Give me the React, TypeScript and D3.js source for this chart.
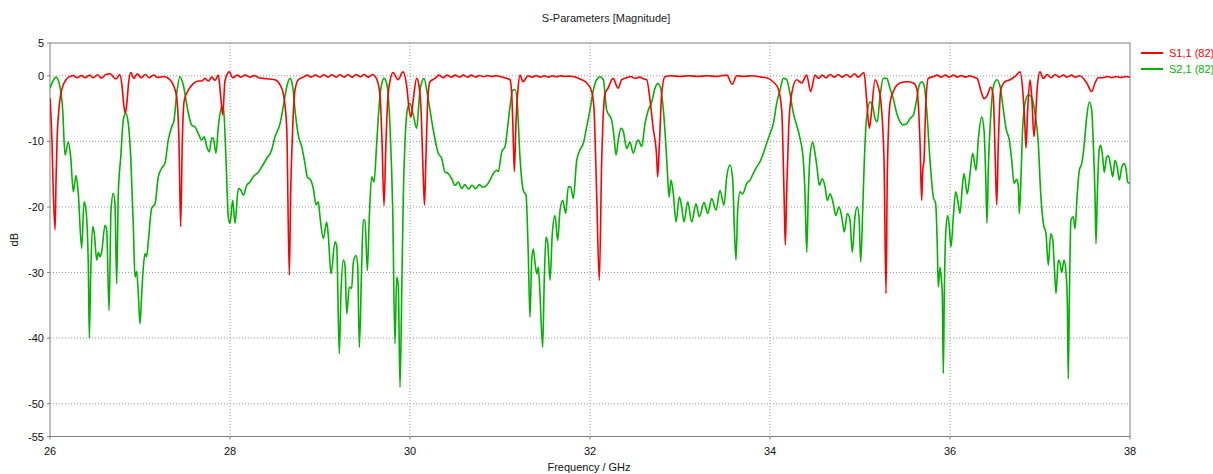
import React from "react";
import * as d3 from "d3";

const title = "S-Parameters [Magnitude]";
const xLabel = "Frequency / GHz";
const yLabel = "dB";
const xTicks = [26, 28, 30, 32, 34, 36, 38];
const yTicks = [5, 0, -10, -20, -30, -40, -50, -55];
const xGrid = [28, 30, 32, 34, 36];
const yGrid = [0, -10, -20, -30, -40, -50];
const seriesNames = ["S1,1 (82)", "S2,1 (82)"];

const s11: [number, number][] = [
[26.0,-3.4],[26.022,-10],[26.033,-16],[26.056,-23.5],[26.067,-16],[26.078,-10],[26.1,-5],[26.133,-2],[26.178,-0.6],[26.222,-0.1],[26.26,0.05],[26.3,-0.3],[26.35,0.05],[26.39,-0.3],[26.44,0.1],[26.48,-0.3],[26.53,0.15],[26.57,-0.35],[26.62,0.2],[26.667,0.3],[26.733,-0.5],[26.774,0.2],[26.8,-1.5],[26.82,-4.5],[26.837,-5.7],[26.855,-4],[26.875,-0.8],[26.9,0.5],[26.93,-0.4],[26.97,0.3],[27.01,-0.3],[27.06,0.2],[27.1,-0.3],[27.15,0.1],[27.2,-0.25],[27.26,-0.1],[27.3,-0.25],[27.37,-1.4],[27.407,-3.2],[27.433,-10],[27.452,-23],[27.47,-10],[27.492,-3.7],[27.537,-2.2],[27.592,-1.2],[27.648,-0.8],[27.685,-0.8],[27.722,-0.4],[27.759,-0.8],[27.797,-0.2],[27.833,-0.7],[27.87,0.1],[27.897,-3.2],[27.919,-6],[27.944,-0.8],[27.992,0.6],[28.03,-0.3],[28.08,0.1],[28.12,-0.2],[28.17,0.1],[28.22,-0.2],[28.27,0.05],[28.32,-0.3],[28.37,-0.4],[28.444,-0.5],[28.5,-0.6],[28.556,-1.4],[28.592,-2.7],[28.63,-7.8],[28.659,-30.4],[28.674,-18],[28.697,-7.8],[28.722,-2.2],[28.759,-0.6],[28.814,-0.2],[28.86,0.1],[28.9,-0.2],[28.95,0.1],[29.0,-0.2],[29.04,0.15],[29.09,-0.2],[29.13,0.15],[29.18,-0.2],[29.22,0.15],[29.27,-0.2],[29.31,0.2],[29.36,-0.2],[29.4,0.2],[29.45,-0.15],[29.49,0.2],[29.54,-0.2],[29.58,0.2],[29.63,-0.5],[29.667,-3],[29.689,-10],[29.711,-19.8],[29.733,-10],[29.756,-3],[29.778,-0.8],[29.811,0.5],[29.867,-0.6],[29.922,0.6],[29.967,-2],[29.989,-5],[30.011,-6.3],[30.033,-4],[30.074,-0.4],[30.1,-1.5],[30.122,-5],[30.144,-14],[30.161,-19.7],[30.178,-12],[30.2,-3],[30.222,-0.9],[30.278,-0.4],[30.32,0.1],[30.37,-0.3],[30.41,0.1],[30.46,-0.2],[30.5,0.1],[30.55,-0.2],[30.59,0.1],[30.64,-0.2],[30.68,0.1],[30.73,-0.2],[30.77,0.05],[30.82,-0.15],[30.86,0.05],[30.91,-0.1],[30.96,0.0],[31.0,-0.1],[31.05,-0.3],[31.111,-0.6],[31.13,-2.7],[31.144,-8],[31.159,-14.6],[31.178,-7],[31.2,-2],[31.222,0.1],[31.256,-0.9],[31.311,0],[31.36,-0.2],[31.4,0.05],[31.45,-0.2],[31.49,0.0],[31.54,-0.2],[31.58,0.0],[31.63,-0.15],[31.67,0.0],[31.72,-0.1],[31.76,-0.05],[31.81,-0.1],[31.889,-0.5],[31.963,-1.1],[32.019,-2.4],[32.044,-5],[32.074,-18],[32.103,-31.2],[32.13,-12.9],[32.167,-2.7],[32.2,-1.9],[32.256,-0.4],[32.311,-1.9],[32.352,-0.6],[32.407,-0.3],[32.45,-0.1],[32.5,-0.4],[32.55,-0.2],[32.6,-0.5],[32.63,-0.6],[32.667,-3.7],[32.7,-7.8],[32.741,-12.4],[32.752,-15.4],[32.77,-10.8],[32.797,-2.7],[32.833,-0.15],[32.9,0],[33.0,-0.1],[33.1,0],[33.2,-0.1],[33.3,0],[33.4,-0.1],[33.52,0.1],[33.581,-1.3],[33.63,0],[33.7,-0.1],[33.8,0],[33.9,-0.2],[33.963,-0.3],[34.033,-0.9],[34.089,-1.9],[34.13,-5.2],[34.156,-18],[34.17,-25.8],[34.185,-18],[34.208,-7.8],[34.241,-2.7],[34.296,-0.6],[34.352,-1.1],[34.407,0.1],[34.452,-2.4],[34.5,0.1],[34.54,-0.4],[34.58,0.1],[34.62,-0.3],[34.67,0.2],[34.71,-0.2],[34.76,0.2],[34.8,-0.2],[34.85,0.2],[34.89,-0.2],[34.94,0.3],[34.98,-0.2],[35.044,0.5],[35.074,-3.7],[35.103,-8],[35.122,-6.3],[35.167,-0.6],[35.203,-1.7],[35.23,-3.7],[35.267,-12.9],[35.289,-33.2],[35.303,-15.4],[35.333,-4.2],[35.37,-2.4],[35.444,-1.1],[35.519,-0.9],[35.593,-1.1],[35.63,-1.9],[35.667,-10.3],[35.685,-19],[35.697,-14.4],[35.711,-12.9],[35.733,-3.7],[35.759,-0.4],[35.815,-0.1],[35.86,0.1],[35.9,-0.2],[35.95,0.1],[35.99,-0.2],[36.04,0.1],[36.08,-0.2],[36.13,0.05],[36.17,-0.2],[36.22,0.0],[36.26,-0.2],[36.3,-0.4],[36.352,-2.7],[36.378,-3.5],[36.414,-3],[36.452,-1.7],[36.481,-3.2],[36.503,-12.9],[36.519,-19.7],[36.537,-10.3],[36.563,-2.2],[36.611,-0.9],[36.667,-0.6],[36.722,-0.1],[36.778,0.6],[36.808,-2.2],[36.833,-7.8],[36.844,-11],[36.863,-5.2],[36.889,-0.6],[36.908,-3.2],[36.933,-9.3],[36.948,-7],[36.97,-1.7],[37.0,0.6],[37.037,-0.4],[37.08,0.2],[37.12,-0.3],[37.17,0.2],[37.21,-0.2],[37.26,0.1],[37.3,-0.2],[37.35,0.1],[37.39,-0.2],[37.44,0.0],[37.519,-1.1],[37.574,-2.4],[37.611,-1.1],[37.648,-0.3],[37.7,-0.3],[37.75,-0.1],[37.8,-0.3],[37.85,-0.1],[37.9,-0.25],[37.95,-0.1],[38.0,-0.2]
];

const s21: [number, number][] = [
[26.0,-1.9],[26.067,-0.2],[26.111,-1.7],[26.141,-5.2],[26.167,-12.1],[26.203,-10.1],[26.23,-12.4],[26.259,-17.7],[26.289,-15.2],[26.314,-17.9],[26.352,-26.3],[26.378,-19.2],[26.4,-20.5],[26.426,-29.2],[26.437,-40],[26.452,-30.2],[26.474,-23],[26.492,-24],[26.519,-28.1],[26.537,-26.9],[26.556,-27.6],[26.574,-26.9],[26.611,-22.8],[26.63,-23.6],[26.656,-35.8],[26.678,-20.5],[26.703,-17.9],[26.722,-19.5],[26.741,-31.7],[26.759,-17.9],[26.786,-12.4],[26.814,-6.8],[26.841,-5.7],[26.87,-7.3],[26.897,-12.4],[26.926,-23],[26.944,-30.7],[26.963,-29.8],[26.981,-33.2],[27.0,-37.8],[27.019,-33.2],[27.037,-29.2],[27.056,-27.1],[27.074,-27.6],[27.092,-25.3],[27.13,-20.2],[27.167,-19.5],[27.203,-15.4],[27.241,-14.1],[27.278,-13.3],[27.314,-9.8],[27.352,-7.8],[27.378,-6.8],[27.408,-2.7],[27.444,-0.15],[27.481,-1.4],[27.537,-5.7],[27.574,-7.5],[27.611,-7.8],[27.648,-8.8],[27.686,-9.8],[27.714,-9.3],[27.741,-10.8],[27.77,-11.6],[27.797,-9.5],[27.814,-9.5],[27.844,-11.8],[27.87,-7.8],[27.908,-4.7],[27.926,-4.8],[27.956,-12.9],[27.981,-21.5],[28.0,-22.5],[28.03,-19],[28.056,-22.5],[28.092,-17.2],[28.119,-17.4],[28.148,-18.2],[28.186,-16.7],[28.222,-16.2],[28.259,-15.4],[28.314,-14.7],[28.352,-13.9],[28.408,-12.6],[28.463,-11.3],[28.5,-9.3],[28.556,-7.3],[28.592,-4.7],[28.63,-1.7],[28.667,-0.4],[28.697,-1.7],[28.722,-5.2],[28.759,-9.1],[28.797,-10.8],[28.833,-13.4],[28.859,-15.4],[28.897,-15.9],[28.926,-17.2],[28.956,-19.7],[28.981,-19.2],[29.0,-21.5],[29.037,-24.8],[29.074,-22.3],[29.092,-24.3],[29.122,-30.2],[29.167,-25.3],[29.186,-26],[29.214,-42.4],[29.233,-33.2],[29.259,-28.1],[29.278,-29],[29.297,-36.3],[29.326,-32.2],[29.352,-32.4],[29.37,-28.5],[29.4,-27.4],[29.419,-29],[29.437,-41.4],[29.463,-29],[29.481,-22],[29.5,-22],[29.526,-29.7],[29.548,-21.5],[29.574,-15.4],[29.6,-16.2],[29.63,-10.3],[29.659,-4.2],[29.686,-1.2],[29.711,-0.4],[29.741,-1.2],[29.778,-7.8],[29.808,-20.5],[29.833,-40.9],[29.852,-30.7],[29.87,-32],[29.889,-47.5],[29.908,-33.2],[29.926,-18],[29.944,-10.3],[29.97,-5.2],[30.0,-4.2],[30.037,-6],[30.074,-8],[30.111,-2.2],[30.156,-0.4],[30.192,-2.7],[30.222,-5.2],[30.259,-8.3],[30.314,-11.8],[30.352,-12.6],[30.389,-14.7],[30.426,-14.9],[30.463,-15.7],[30.5,-16.7],[30.537,-16.2],[30.574,-17.2],[30.61,-16.6],[30.65,-17.3],[30.69,-16.7],[30.73,-17.2],[30.77,-16.6],[30.81,-17],[30.852,-16.7],[30.889,-15.9],[30.926,-14.9],[30.963,-14.4],[30.981,-14.6],[31.019,-11.6],[31.056,-10.8],[31.081,-8.3],[31.111,-4.7],[31.141,-2.2],[31.167,-2.1],[31.192,-4.2],[31.222,-12.4],[31.259,-17.5],[31.289,-18.2],[31.314,-27.1],[31.333,-36.8],[31.352,-28.1],[31.37,-26.4],[31.389,-28.5],[31.408,-30.2],[31.426,-29.2],[31.444,-33.2],[31.474,-41.4],[31.492,-31],[31.511,-24.6],[31.53,-25.5],[31.556,-31.2],[31.581,-24.1],[31.611,-21.3],[31.641,-25.1],[31.667,-20.5],[31.697,-19],[31.73,-21],[31.759,-16.9],[31.786,-17],[31.815,-18.7],[31.852,-12.9],[31.889,-11.3],[31.926,-10.3],[31.963,-7.8],[32.0,-5.2],[32.037,-2.2],[32.074,-0.6],[32.111,-0.15],[32.148,-0.6],[32.185,-5.2],[32.241,-6.8],[32.267,-9.3],[32.289,-12.1],[32.314,-9.8],[32.344,-8],[32.37,-8.5],[32.408,-11.1],[32.444,-10.1],[32.481,-11.8],[32.519,-10.1],[32.537,-9.8],[32.574,-10.8],[32.611,-7.3],[32.648,-5.2],[32.686,-4],[32.722,-1.9],[32.752,-1.2],[32.778,-1.6],[32.815,-5.2],[32.844,-10.8],[32.863,-15.4],[32.878,-18.5],[32.9,-15.9],[32.926,-18],[32.956,-22.3],[32.992,-18.5],[33.019,-20],[33.044,-22.3],[33.086,-19.2],[33.13,-22.3],[33.178,-19.5],[33.214,-21.5],[33.267,-19.3],[33.308,-21],[33.352,-18.7],[33.4,-20.5],[33.444,-17.5],[33.489,-19.7],[33.519,-15.4],[33.556,-13.6],[33.586,-15.9],[33.603,-23],[33.622,-28.1],[33.641,-20.5],[33.667,-17.7],[33.697,-18],[33.741,-16.4],[33.778,-15.9],[33.814,-14.9],[33.852,-13.9],[33.889,-13.1],[33.926,-11.8],[33.963,-10.3],[34.0,-8.8],[34.037,-7.3],[34.074,-4.2],[34.111,-2.2],[34.148,-0.4],[34.185,-0.6],[34.222,-2.7],[34.259,-5.7],[34.296,-7.5],[34.333,-9.5],[34.37,-12.9],[34.389,-18],[34.408,-26.9],[34.426,-18],[34.444,-12.4],[34.474,-10.1],[34.5,-11.8],[34.526,-14.4],[34.548,-16.7],[34.581,-15.7],[34.611,-16.9],[34.637,-19],[34.667,-18],[34.703,-19.5],[34.73,-21.3],[34.767,-20],[34.797,-21.5],[34.826,-23.8],[34.859,-21],[34.889,-22],[34.914,-26.9],[34.944,-21.5],[34.97,-20],[34.989,-21.5],[35.008,-28.4],[35.03,-20.5],[35.048,-12.9],[35.074,-6.3],[35.111,-4],[35.141,-4.6],[35.167,-6.5],[35.192,-7],[35.222,-3.2],[35.259,-0.4],[35.297,-0.4],[35.333,-1.9],[35.37,-3.5],[35.408,-5.7],[35.444,-7],[35.481,-7.5],[35.519,-7.3],[35.556,-6.5],[35.593,-6],[35.622,-4.2],[35.659,-1.4],[35.685,-0.9],[35.711,-1.4],[35.741,-5.2],[35.778,-12.9],[35.815,-18.5],[35.841,-19.5],[35.859,-26.1],[35.87,-32.2],[35.889,-29.2],[35.9,-30.5],[35.914,-33],[35.926,-45.4],[35.937,-33],[35.952,-24.1],[35.974,-21.3],[35.992,-23],[36.011,-26.1],[36.037,-21.5],[36.063,-17.7],[36.086,-19],[36.111,-21],[36.137,-16.9],[36.156,-14.9],[36.192,-18],[36.222,-15],[36.252,-11.8],[36.289,-14.4],[36.314,-9.8],[36.352,-6.3],[36.378,-8.3],[36.397,-15.4],[36.411,-22.5],[36.426,-14],[36.452,-6.3],[36.481,-1.7],[36.519,-0.6],[36.556,-1.6],[36.593,-5.2],[36.622,-8],[36.659,-9.8],[36.686,-12.9],[36.711,-16.4],[36.741,-15.8],[36.759,-16.8],[36.77,-21],[36.786,-16.8],[36.803,-9.3],[36.833,-4.2],[36.87,-2.9],[36.908,-3.3],[36.944,-5.7],[36.981,-10.3],[37.008,-18],[37.037,-22.5],[37.067,-24.1],[37.092,-28.9],[37.119,-24.1],[37.141,-25],[37.159,-29],[37.178,-33.2],[37.203,-28.1],[37.222,-28.5],[37.241,-30],[37.267,-28.1],[37.289,-30],[37.303,-34.2],[37.314,-46.2],[37.326,-34.2],[37.344,-22],[37.37,-21.5],[37.389,-23.3],[37.414,-18],[37.437,-14.4],[37.463,-13.4],[37.489,-10.8],[37.519,-6.3],[37.548,-4],[37.574,-5.2],[37.592,-10.3],[37.611,-18],[37.622,-25.6],[37.637,-18],[37.659,-11.1],[37.674,-10.6],[37.697,-12.5],[37.714,-14.7],[37.741,-12.4],[37.759,-12.2],[37.786,-13.8],[37.808,-15.4],[37.833,-12.9],[37.859,-14],[37.881,-15.9],[37.908,-14],[37.933,-13.4],[37.956,-14.2],[37.974,-16.2],[38.0,-16.4]
];

const colors = ["#ff0000", "#00b400"];

export default function App() {
  const W = 1213, H = 474;
  const x = d3.scaleLinear().domain([26, 38]).range([50, 1130]);
  const y = d3.scaleLinear().domain([-55, 5]).range([436.5, 43]);
  const line = d3
    .line<[number, number]>()
    .x((d) => x(d[0]))
    .y((d) => y(d[1]))
    .curve(d3.curveMonotoneX);
  const font = "'Liberation Sans', Arial, sans-serif";
  const axisColor = "#808080";
  const x0 = x(26), x1 = x(38), yTop = y(5), yBot = y(-55);
  return (
    <svg
      width={W}
      height={H}
      style={{ position: "absolute", left: 0, top: 0, background: "#fff" }}
      fontFamily={font}
    >
      <text x={606} y={22} fontSize={11} textAnchor="middle" fill="#222">
        {title}
      </text>
      {yGrid.map((v) => (
        <line key={"yg" + v} x1={x0} x2={x1} y1={y(v)} y2={y(v)} stroke="#9a9a9a" strokeDasharray="1 2" />
      ))}
      {xGrid.map((v) => (
        <line key={"xg" + v} x1={x(v)} x2={x(v)} y1={yTop} y2={yBot} stroke="#9a9a9a" strokeDasharray="1 2" />
      ))}
      <rect x={x0} y={yTop} width={x1 - x0} height={yBot - yTop} fill="none" stroke={axisColor} strokeWidth={1} />
      {yTicks.map((v) => (
        <g key={"yt" + v}>
          <line x1={x0 - 3} x2={x0} y1={y(v)} y2={y(v)} stroke={axisColor} />
          <text x={x0 - 6} y={y(v) + 4} fontSize={11} textAnchor="end" fill="#111">
            {v}
          </text>
        </g>
      ))}
      {xTicks.map((v) => (
        <g key={"xt" + v}>
          <line x1={x(v)} x2={x(v)} y1={yBot} y2={yBot + 3} stroke={axisColor} />
          <text x={x(v)} y={yBot + 18} fontSize={11} textAnchor="middle" fill="#111">
            {v}
          </text>
        </g>
      ))}
      <text x={589} y={471} fontSize={11} textAnchor="middle" fill="#111">
        {xLabel}
      </text>
      <text
        transform={`translate(18, ${(yTop + yBot) / 2}) rotate(-90)`}
        fontSize={11}
        textAnchor="middle"
        fill="#111"
      >
        {yLabel}
      </text>
      <g>
        <clipPath id="plotclip">
          <rect x={x0} y={yTop} width={x1 - x0} height={yBot - yTop} />
        </clipPath>
        <path d={line(s21) || ""} fill="none" stroke={colors[1]} strokeWidth={1.6} clipPath="url(#plotclip)" />
        <path d={line(s11) || ""} fill="none" stroke={colors[0]} strokeWidth={1.6} clipPath="url(#plotclip)" />
      </g>
      {seriesNames.map((n, i) => (
        <g key={n}>
          <line x1={1141} x2={1163} y1={53 + i * 16} y2={53 + i * 16} stroke={colors[i]} strokeWidth={2} />
          <text x={1169} y={57 + i * 16} fontSize={11} fill={colors[i]}>
            {n}
          </text>
        </g>
      ))}
    </svg>
  );
}
